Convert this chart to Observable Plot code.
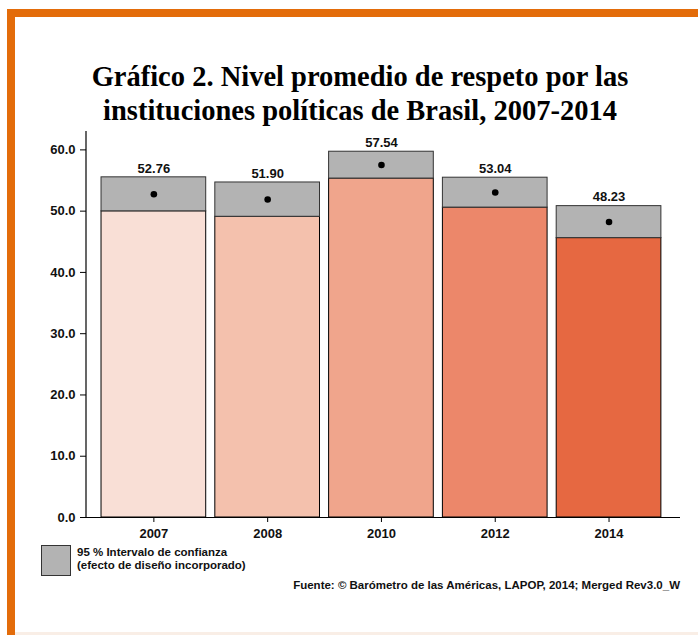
<!DOCTYPE html>
<html>
<head>
<meta charset="utf-8">
<script src="https://cdn.jsdelivr.net/npm/d3@7"></script>
<script src="https://cdn.jsdelivr.net/npm/@observablehq/plot@0.6"></script>
<style>
  html, body { margin: 0; padding: 0; background: #fff; }
  #page { position: relative; width: 698px; height: 635px; background: #fff; overflow: hidden; }
  .bar-top { position: absolute; left: 7px; top: 9px; width: 691px; height: 8px; background: #E36C0A; }
  .bar-left { position: absolute; left: 7px; top: 9px; width: 8px; height: 626px; background: #E36C0A; }
  .bar-bottom { position: absolute; left: 15px; top: 632px; width: 683px; height: 3px; background: #F9EEE6; }
  #title { position: absolute; left: 15px; width: 690px; top: 60px; text-align: center;
    font-family: "Liberation Serif", "DejaVu Serif", serif; font-weight: bold; font-size: 28.5px; line-height: 34px; color: #000; }
  #chart { position: absolute; left: 0; top: 125px; }
  #legend-box { position: absolute; left: 41px; top: 545px; width: 28px; height: 29px; background: #B3B3B3; border: 1px solid #333; }
  #legend-text { position: absolute; left: 77px; top: 546px; font-family: "Liberation Sans", Arial, sans-serif;
    font-weight: bold; font-size: 11.5px; line-height: 13px; color: #111; }
  #source { position: absolute; right: 18px; top: 579px; font-family: "Liberation Sans", Arial, sans-serif;
    font-weight: bold; font-size: 11.5px; color: #111; white-space: nowrap; }
</style>
</head>
<body>
<div id="page">
  <div class="bar-top"></div>
  <div class="bar-left"></div>
  <div class="bar-bottom"></div>
  <div id="title">Gráfico 2. Nivel promedio de respeto por las<br>instituciones políticas de Brasil, 2007-2014</div>
  <div id="chart"></div>
  <div id="legend-box"></div>
  <div id="legend-text">95 % Intervalo de confianza<br>(efecto de diseño incorporado)</div>
  <div id="source">Fuente: © Barómetro de las Américas, LAPOP, 2014; Merged Rev3.0_W</div>
</div>
<script>
const years = ["2007", "2008", "2010", "2012", "2014"];
const means = [52.76, 51.90, 57.54, 53.04, 48.23];
const lower = [49.97, 49.08, 55.32, 50.58, 45.60];
const upper = [55.52, 54.68, 59.70, 55.46, 50.82];
const barColors = ["#F9DFD6", "#F4C1AD", "#F0A58C", "#EC876A", "#E66841"];
const yTicks = [0, 10, 20, 30, 40, 50, 60];

const rows = years.map((year, i) => ({year, mean: means[i], lo: lower[i], hi: upper[i]}));

const yAxisLine = (index, scales, values, dims) => {
  const g = d3.create("svg:line")
    .attr("x1", dims.marginLeft).attr("x2", dims.marginLeft)
    .attr("y1", dims.marginTop).attr("y2", dims.height - dims.marginBottom)
    .attr("stroke", "#000").attr("stroke-width", 1.2);
  return g.node();
};

const chart = Plot.plot({
  width: 698,
  height: 420,
  marginLeft: 86,
  marginRight: 18,
  marginTop: 6,
  marginBottom: 28,
  style: {fontFamily: "'Liberation Sans', Arial, sans-serif", fontSize: "13px", fontWeight: "bold", color: "#111", background: "transparent"},
  x: {domain: years, paddingInner: 0.08, paddingOuter: 0.15, align: 0.44, round: false, label: null},
  y: {domain: [0, 63], label: null},
  color: {domain: years, range: barColors},
  marks: [
    Plot.barY(rows, {x: "year", y1: 0, y2: "lo", fill: "year", stroke: "#000", strokeWidth: 1}),
    Plot.barY(rows, {x: "year", y1: "lo", y2: "hi", fill: "#B3B3B3", stroke: "#333", strokeWidth: 1}),
    Plot.dot(rows, {x: "year", y: "mean", r: 3.3, fill: "#000", stroke: null}),
    Plot.text(rows, {x: "year", y: "hi", text: d => d.mean.toFixed(2), dy: -9, fontSize: 13, fontWeight: "bold", fill: "#111"}),
    Plot.axisY({ticks: yTicks, tickFormat: d => d.toFixed(1), tickSize: 6, tickPadding: 5, stroke: "#000", fontSize: 13, fontWeight: "bold"}),
    Plot.axisX({tickSize: 5, tickPadding: 6, stroke: "#000", fontSize: 13, fontWeight: "bold"}),
    Plot.ruleY([0], {stroke: "#000", strokeWidth: 1.2}),
    yAxisLine
  ]
});
document.getElementById("chart").appendChild(chart);
</script>
</body>
</html>
